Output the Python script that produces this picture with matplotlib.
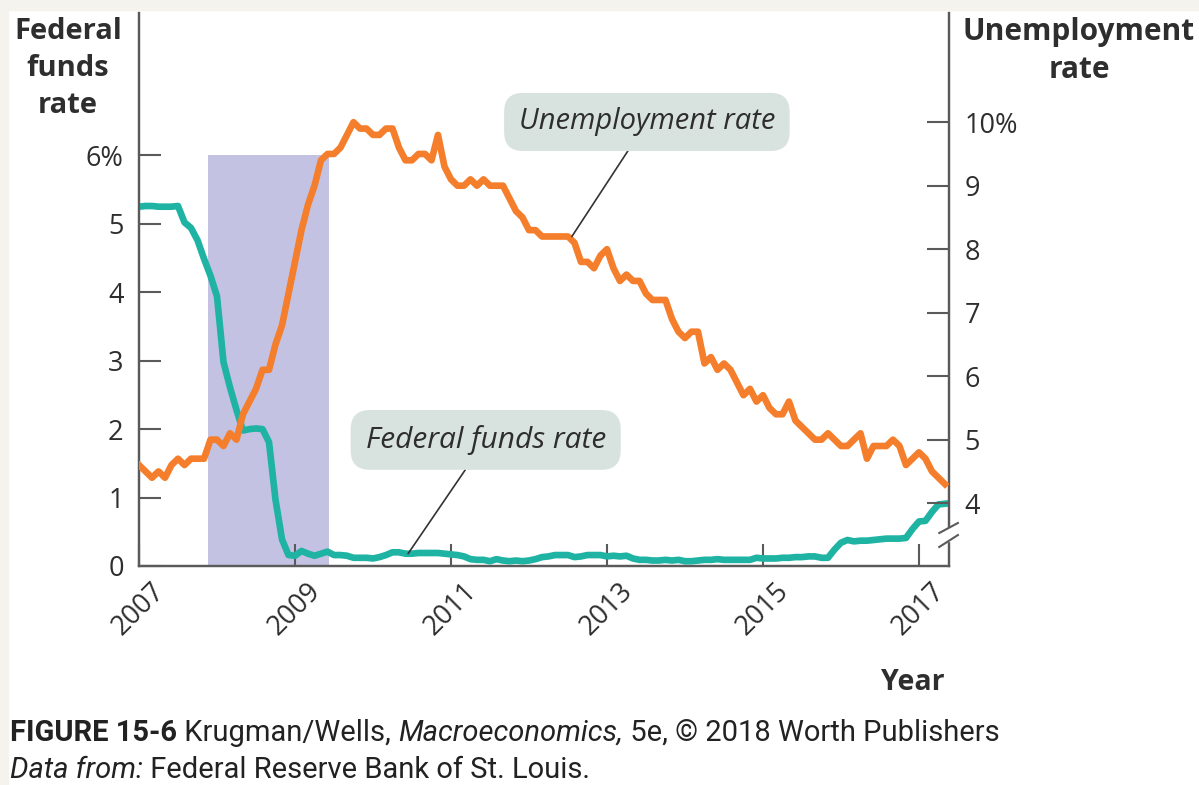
import numpy as np
import matplotlib
matplotlib.use("Agg")
import matplotlib.pyplot as plt
from matplotlib.patches import Rectangle
from matplotlib import font_manager

# monthly data, Jan 2007 - May 2017
fed_funds = [
    5.25, 5.26, 5.26, 5.25, 5.25, 5.25, 5.26, 5.02, 4.94, 4.76, 4.49, 4.24,
    3.94, 2.98, 2.61, 2.28, 1.98, 2.00, 2.01, 2.00, 1.81, 0.97, 0.39, 0.16,
    0.15, 0.22, 0.18, 0.15, 0.18, 0.21, 0.16, 0.16, 0.15, 0.12, 0.12, 0.12,
    0.11, 0.13, 0.16, 0.20, 0.20, 0.18, 0.18, 0.19, 0.19, 0.19, 0.19, 0.18,
    0.17, 0.16, 0.14, 0.10, 0.09, 0.09, 0.07, 0.10, 0.08, 0.07, 0.08, 0.07,
    0.08, 0.10, 0.13, 0.14, 0.16, 0.16, 0.16, 0.13, 0.14, 0.16, 0.16, 0.16,
    0.14, 0.15, 0.14, 0.15, 0.11, 0.09, 0.09, 0.08, 0.08, 0.09, 0.08, 0.09,
    0.07, 0.07, 0.08, 0.09, 0.09, 0.10, 0.09, 0.09, 0.09, 0.09, 0.09, 0.12,
    0.11, 0.11, 0.11, 0.12, 0.12, 0.13, 0.13, 0.14, 0.14, 0.12, 0.12, 0.24,
    0.34, 0.38, 0.36, 0.37, 0.37, 0.38, 0.39, 0.40, 0.40, 0.40, 0.41, 0.54,
    0.65, 0.66, 0.79, 0.90, 0.91,
]
unemployment = [
    4.6, 4.5, 4.4, 4.5, 4.4, 4.6, 4.7, 4.6, 4.7, 4.7, 4.7, 5.0,
    5.0, 4.9, 5.1, 5.0, 5.4, 5.6, 5.8, 6.1, 6.1, 6.5, 6.8, 7.3,
    7.8, 8.3, 8.7, 9.0, 9.4, 9.5, 9.5, 9.6, 9.8, 10.0, 9.9, 9.9,
    9.8, 9.8, 9.9, 9.9, 9.6, 9.4, 9.4, 9.5, 9.5, 9.4, 9.8, 9.3,
    9.1, 9.0, 9.0, 9.1, 9.0, 9.1, 9.0, 9.0, 9.0, 8.8, 8.6, 8.5,
    8.3, 8.3, 8.2, 8.2, 8.2, 8.2, 8.2, 8.1, 7.8, 7.8, 7.7, 7.9,
    8.0, 7.7, 7.5, 7.6, 7.5, 7.5, 7.3, 7.2, 7.2, 7.2, 6.9, 6.7,
    6.6, 6.7, 6.7, 6.2, 6.3, 6.1, 6.2, 6.1, 5.9, 5.7, 5.8, 5.6,
    5.7, 5.5, 5.4, 5.4, 5.6, 5.3, 5.2, 5.1, 5.0, 5.0, 5.1, 5.0,
    4.9, 4.9, 5.0, 5.1, 4.7, 4.9, 4.9, 4.9, 5.0, 4.9, 4.6, 4.7,
    4.8, 4.7, 4.5, 4.4, 4.3,
]
start_year = 2007
recession = (2007.88, 2009.44)
year_ticks = [2007, 2009, 2011, 2013, 2015, 2017]
fed_ticks = [0, 1, 2, 3, 4, 5, 6]
fed_labels = ["0", "1", "2", "3", "4", "5", "6%"]
unemp_ticks = [4, 5, 6, 7, 8, 9, 10]
unemp_labels = ["4", "5", "6", "7", "8", "9", "10%"]

TEAL = "#1fb3a4"
ORANGE = "#f47e2b"
SHADE = "#c4c2e3"
AXIS = "#5a5a5a"
TEXT = "#2e2e2e"
BOX = "#d8e3e0"

plt.rcParams["font.family"] = ["Open Sans", "DejaVu Sans"]

months = start_year + np.arange(len(fed_funds)) / 12

fig = plt.figure(figsize=(11.99, 7.85), dpi=100)
fig.patch.set_facecolor("white")
# light cream frame at the top/left edge of the scan
fig.patches.append(Rectangle((0, 1 - 10 / 785), 1, 10 / 785, transform=fig.transFigure,
                             color="#f5f3ed", zorder=0))
fig.patches.append(Rectangle((0, 0), 8 / 1199, 1, transform=fig.transFigure,
                             color="#f5f3ed", zorder=0))

ax = fig.add_axes([139 / 1199, 1 - 566 / 785, 810 / 1199, 553 / 785])
ax2 = ax.twinx()

ax.add_patch(Rectangle((recession[0], 0), recession[1] - recession[0], 6,
                       color=SHADE, lw=0, zorder=1))
ax.plot(months, fed_funds, color=TEAL, lw=4.8, solid_joinstyle="round", zorder=3)
ax2.plot(months, unemployment, color=ORANGE, lw=4.8, solid_joinstyle="round", zorder=3)

ax.set_xlim(2007, 2017.385)
ax.set_ylim(0, 8.08)
ax2.set_ylim(3.01, 11.72)

ax.set_xticks(year_ticks)
ax.set_xticklabels([str(y) for y in year_ticks], rotation=45, ha="center",
                   fontsize=19.5, color=TEXT)
ax.set_yticks(fed_ticks)
ax.set_yticklabels(fed_labels, fontsize=19.5, color=TEXT)
ax2.set_yticks(unemp_ticks)
ax2.set_yticklabels(unemp_labels, fontsize=19.5, color=TEXT)

for a in (ax, ax2):
    a.tick_params(direction="in", length=16, width=1.5, color=AXIS, pad=11)
    a.spines["top"].set_visible(False)
    for s in ("left", "right", "bottom"):
        a.spines[s].set_color(AXIS)
        a.spines[s].set_linewidth(1.6)
ax.tick_params(axis="x", pad=8)

# axis break on the right axis
ax2.add_patch(Rectangle((0.99, 0.045), 0.02, 0.024, transform=ax2.transAxes,
                        color="white", clip_on=False, zorder=5))
for y0, y1 in ((0.0597, 0.0778), (0.0344, 0.056)):
    ax2.plot([0.988, 1.011], [y0, y1], transform=ax2.transAxes, color=AXIS,
             lw=1.5, clip_on=False, zorder=6)

box = dict(boxstyle="round,pad=0.5,rounding_size=0.65", fc=BOX, ec="none")
ax2.annotate("Unemployment rate", xy=(2012.55, 8.2), xycoords="data",
             xytext=(0.627, 0.803), textcoords="axes fraction",
             ha="center", va="center", fontsize=21, style="italic", color=TEXT,
             bbox=box, arrowprops=dict(arrowstyle="-", color="#333333", lw=1.2,
                                       shrinkA=0, shrinkB=0))
ax.annotate("Federal funds rate", xy=(2010.45, 0.18), xycoords="data",
            xytext=(0.428, 0.228), textcoords="axes fraction",
            ha="center", va="center", fontsize=21.5, style="italic", color=TEXT,
            bbox=box, arrowprops=dict(arrowstyle="-", color="#333333", lw=1.2,
                                      shrinkA=0, shrinkB=0))

fig.text(68 / 1199, 1 - 17 / 785, "Federal\nfunds\nrate", ha="center", va="top",
         fontsize=21, fontweight="bold", color=TEXT, linespacing=1.36)
fig.text(1079 / 1199, 1 - 17 / 785, "Unemployment\nrate", ha="center", va="top",
         fontsize=21.5, fontweight="bold", color=TEXT, linespacing=1.33)
fig.text(945 / 1199, 1 - 690 / 785, "Year", ha="right", va="baseline",
         fontsize=20.5, fontweight="bold", color=TEXT)

# caption, built piece by piece
names = {f.name for f in font_manager.fontManager.ttflist}
cap_font = "Liberation Sans Narrow" if "Liberation Sans Narrow" in names else "Roboto"
renderer = fig.canvas.get_renderer()


def caption_line(pieces, x, y, size):
    for s, weight, style in pieces:
        t = fig.text(x / 1199, y / 785, s, fontsize=size, fontweight=weight,
                     style=style, family=cap_font, color="#222222", va="baseline")
        x += t.get_window_extent(renderer).width


caption_line([("FIGURE 15-6", "bold", "normal"),
              (" Krugman/Wells, ", "normal", "normal"),
              ("Macroeconomics,", "normal", "italic"),
              (" 5e, \u00a9 2018 Worth Publishers", "normal", "normal")],
             10, 785 - 741, 21)
caption_line([("Data from:", "normal", "italic"),
              (" Federal Reserve Bank of St. Louis.", "normal", "normal")],
             10, 785 - 778, 21)

fig.savefig("out.png", dpi=100)
